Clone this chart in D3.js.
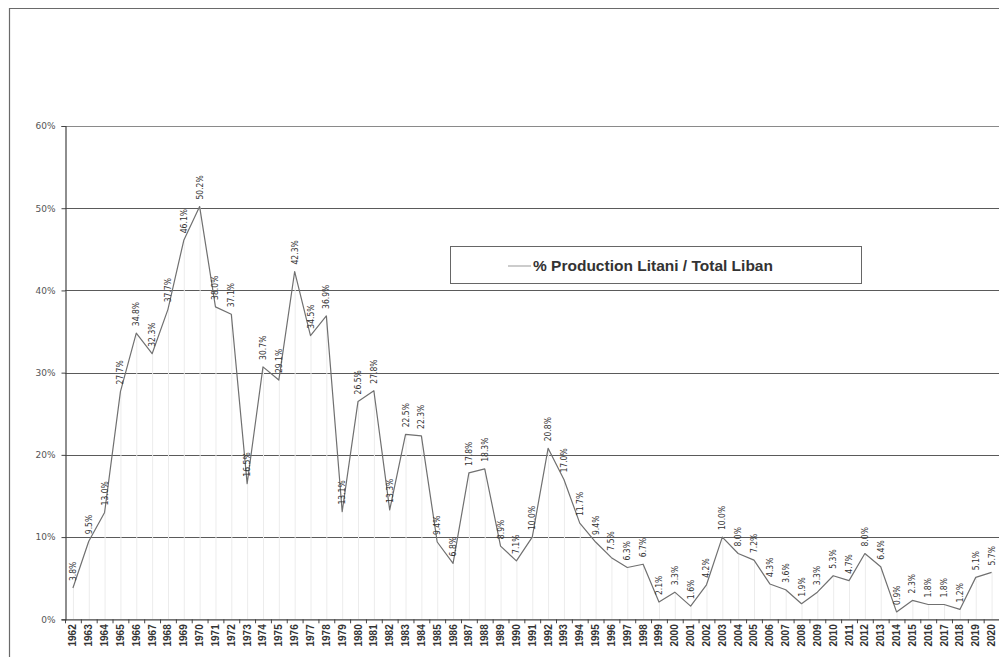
<!DOCTYPE html>
<html>
<head>
<meta charset="utf-8">
<script src="https://cdn.jsdelivr.net/npm/d3@7"></script>
<style>
  html, body { margin: 0; padding: 0; background: #fff; }
  svg { display: block; }
</style>
</head>
<body>
<svg id="chart" width="999" height="657"></svg>
<script>
// Share of the Litani in total Lebanese production, by year
const years = [
  1962, 1963, 1964, 1965, 1966, 1967, 1968, 1969, 1970, 1971,
  1972, 1973, 1974, 1975, 1976, 1977, 1978, 1979, 1980, 1981,
  1982, 1983, 1984, 1985, 1986, 1987, 1988, 1989, 1990, 1991,
  1992, 1993, 1994, 1995, 1996, 1997, 1998, 1999, 2000, 2001,
  2002, 2003, 2004, 2005, 2006, 2007, 2008, 2009, 2010, 2011,
  2012, 2013, 2014, 2015, 2016, 2017, 2018, 2019, 2020
];
const sharePct = [
  3.8, 9.5, 13.0, 27.7, 34.8, 32.3, 37.7, 46.1, 50.2, 38.0,
  37.1, 16.5, 30.7, 29.1, 42.3, 34.5, 36.9, 13.1, 26.5, 27.8,
  13.3, 22.5, 22.3, 9.4, 6.8, 17.8, 18.3, 8.9, 7.1, 10.0,
  20.8, 17.0, 11.7, 9.4, 7.5, 6.3, 6.7, 2.1, 3.3, 1.6,
  4.2, 10.0, 8.0, 7.2, 4.3, 3.6, 1.9, 3.3, 5.3, 4.7,
  8.0, 6.4, 0.9, 2.3, 1.8, 1.8, 1.2, 5.1, 5.7
];
const yTicks = [0, 10, 20, 30, 40, 50, 60];
const legendLabel = "% Production Litani / Total Liban";

const svg = d3.select("#chart");
const plot = { left: 65, right: 999.5, top: 126, bottom: 619.3 };

const x = d3.scaleBand()
  .domain(years)
  .range([plot.left, plot.right])
  .paddingInner(0).paddingOuter(0);
const cx = d => x(d) + x.bandwidth() / 2;
const y = d3.scaleLinear().domain([0, 60]).range([plot.bottom, plot.top]);

// outer chart frame
svg.append("path")
  .attr("d", `M9.5,660 V8.5 H1000`)
  .attr("fill", "none").attr("stroke", "#6a6a6a").attr("stroke-width", 1.2);

// horizontal gridlines
svg.append("g").selectAll("line")
  .data(yTicks.filter(t => t > 0))
  .join("line")
  .attr("x1", plot.left).attr("x2", 999)
  .attr("y1", d => Math.round(y(d)) + 0.5).attr("y2", d => Math.round(y(d)) + 0.5)
  .attr("stroke", d => d === 60 ? "#8a8a8a" : "#5a5a5a")
  .attr("stroke-width", 1);

// y axis
const yAxis = svg.append("g")
  .attr("transform", `translate(${plot.left + 0.5},0)`)
  .call(d3.axisLeft(y).tickValues(yTicks).tickSize(4).tickPadding(6)
    .tickFormat(d => d + "%"));
yAxis.select(".domain").attr("stroke", "#444").attr("stroke-width", 1.2);
yAxis.selectAll(".tick line").attr("stroke", "#444");
yAxis.selectAll("text")
  .attr("font-family", "'DejaVu Sans', sans-serif")
  .attr("font-size", 9).attr("fill", "#555");

// faint drop lines under each point
svg.append("g").selectAll("line")
  .data(years)
  .join("line")
  .attr("x1", d => cx(d) + 0.5).attr("x2", d => cx(d) + 0.5)
  .attr("y1", (d, i) => y(sharePct[i])).attr("y2", plot.bottom)
  .attr("stroke", "#ececec").attr("stroke-width", 1);

// x axis with ticks between categories
const xAxisG = svg.append("g").attr("transform", `translate(0,${plot.bottom})`);
xAxisG.append("line")
  .attr("x1", plot.left).attr("x2", 999)
  .attr("y1", 0.5).attr("y2", 0.5)
  .attr("stroke", "#444").attr("stroke-width", 1.2);
xAxisG.selectAll("line.tick")
  .data(years)
  .join("line").attr("class", "tick")
  .attr("x1", d => x(d) + 0.5).attr("x2", d => x(d) + 0.5)
  .attr("y1", 0).attr("y2", 4)
  .attr("stroke", "#444");
xAxisG.selectAll("text")
  .data(years)
  .join("text")
  .attr("transform", d => `translate(${cx(d) + 3.5},${5}) rotate(-90)`)
  .attr("text-anchor", "end")
  .attr("font-family", "'Liberation Sans', Arial, sans-serif")
  .attr("font-weight", "bold")
  .attr("font-size", 10)
  .attr("fill", "#333")
  .text(d => d);

// series line
const line = d3.line()
  .x((d, i) => cx(years[i]))
  .y(d => y(d));
svg.append("path")
  .datum(sharePct)
  .attr("d", line)
  .attr("fill", "none")
  .attr("stroke", "#707070")
  .attr("stroke-width", 1.2)
  .attr("stroke-linejoin", "round");

// value labels above each point
svg.append("g").selectAll("text")
  .data(sharePct)
  .join("text")
  .attr("transform", (d, i) => `translate(${cx(years[i]) + 3},${y(d) - 7}) rotate(-90)`)
  .attr("text-anchor", "start")
  .attr("font-family", "'DejaVu Sans Condensed', 'DejaVu Sans', sans-serif")
  .attr("font-size", 8.5)
  .attr("fill", "#333")
  .text(d => d.toFixed(1) + "%");

// legend
const legend = svg.append("g");
legend.append("rect")
  .attr("x", 450.5).attr("y", 246.5)
  .attr("width", 411).attr("height", 37)
  .attr("fill", "#fff").attr("stroke", "#666").attr("stroke-width", 1);
legend.append("line")
  .attr("x1", 508).attr("x2", 531)
  .attr("y1", 266).attr("y2", 266)
  .attr("stroke", "#bbb").attr("stroke-width", 1.5);
legend.append("text")
  .attr("x", 533).attr("y", 271)
  .attr("font-family", "'Liberation Sans', Arial, sans-serif")
  .attr("font-size", 15.5)
  .attr("font-weight", "bold")
  .attr("fill", "#333")
  .text(legendLabel);
</script>
</body>
</html>
